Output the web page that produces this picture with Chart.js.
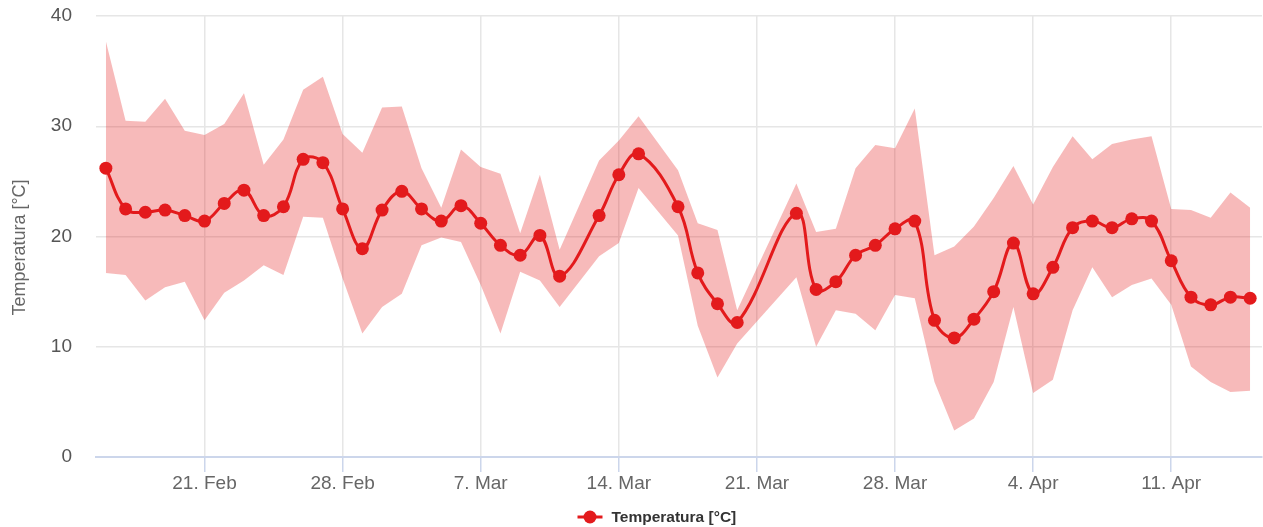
<!DOCTYPE html>
<html>
<head>
<meta charset="utf-8">
<script src="https://cdn.jsdelivr.net/npm/chart.js@4.4.1/dist/chart.umd.min.js"></script>
<style>
  html, body { margin: 0; padding: 0; background: #ffffff; }
  canvas { display: block; }
</style>
</head>
<body>
<canvas id="chart" width="1263" height="527"></canvas>
<script>
// Daily readings (a few days have no data)
const dates = [
  '2023-02-16','2023-02-17','2023-02-18','2023-02-19','2023-02-20','2023-02-21','2023-02-22',
  '2023-02-23','2023-02-24','2023-02-25','2023-02-26','2023-02-27','2023-02-28',
  '2023-03-01','2023-03-02','2023-03-03','2023-03-04','2023-03-05','2023-03-06','2023-03-07',
  '2023-03-08','2023-03-09','2023-03-10','2023-03-11',
  '2023-03-13','2023-03-14','2023-03-15',
  '2023-03-17','2023-03-18','2023-03-19','2023-03-20',
  '2023-03-23','2023-03-24','2023-03-25','2023-03-26','2023-03-27','2023-03-28','2023-03-29',
  '2023-03-30','2023-03-31',
  '2023-04-01','2023-04-02','2023-04-03','2023-04-04','2023-04-05','2023-04-06','2023-04-07',
  '2023-04-08','2023-04-09','2023-04-10','2023-04-11','2023-04-12','2023-04-13','2023-04-14','2023-04-15'
];

// Mean temperature per day
const tempMean = [
  26.2, 22.5, 22.2, 22.4, 21.9, 21.4, 23.0, 24.2, 21.9, 22.7, 27.0, 26.7, 22.5,
  18.9, 22.4, 24.1, 22.5, 21.4, 22.8, 21.2, 19.2, 18.3, 20.1, 16.4,
  21.9, 25.6, 27.5,
  22.7, 16.7, 13.9, 12.2,
  22.1, 15.2, 15.9, 18.3, 19.2, 20.7, 21.4, 12.4, 10.8,
  12.5, 15.0, 19.4, 14.8, 17.2, 20.8, 21.4, 20.8, 21.6, 21.4, 17.8, 14.5, 13.8, 14.5, 14.4
];

// Daily minimum
const tempMin = [
  16.7, 16.5, 14.2, 15.4, 15.9, 12.4, 14.9, 16.0, 17.4, 16.5, 21.8, 21.7, 16.2,
  11.2, 13.6, 14.8, 19.2, 19.9, 19.5, 15.6, 11.2, 16.8, 16.0, 13.6,
  18.2, 19.4, 24.4,
  20.1, 11.9, 7.2, 10.3,
  16.3, 10.0, 13.3, 13.0, 11.5, 14.7, 14.4, 6.8, 2.4,
  3.5, 6.8, 13.6, 5.8, 7.0, 13.3, 17.2, 14.5, 15.6, 16.2, 13.8, 8.2, 6.8, 5.9, 6.0
];

// Daily maximum
const tempMax = [
  37.7, 30.5, 30.4, 32.5, 29.6, 29.2, 30.2, 33.0, 26.5, 28.8, 33.3, 34.5, 29.3,
  27.6, 31.7, 31.8, 26.2, 22.6, 27.9, 26.3, 25.7, 20.3, 25.6, 18.8,
  26.9, 28.7, 30.9,
  26.0, 21.2, 20.6, 13.3,
  24.8, 20.4, 20.7, 26.2, 28.3, 28.0, 31.6, 18.3, 19.1,
  20.9, 23.5, 26.4, 22.9, 26.3, 29.1, 27.0, 28.4, 28.8, 29.1, 22.5, 22.4, 21.7, 24.0, 22.6
];

// Weekly axis ticks
const tickDates  = ['2023-02-21','2023-02-28','2023-03-07','2023-03-14','2023-03-21','2023-03-28','2023-04-04','2023-04-11'];
const tickLabels = ['21. Feb','28. Feb','7. Mar','14. Mar','21. Mar','28. Mar','4. Apr','11. Apr'];

const seriesName = 'Temperatura [°C]';
const axisTitle = 'Temperatura [°C]';

const RED = '#e31a1c';
const BAND = 'rgba(227, 26, 28, 0.3)';
const FONT = '"Liberation Sans", Arial, Helvetica, sans-serif';

// dates -> day numbers on a linear axis
const DAY = 86400000;
const origin = Date.parse(dates[0]);
const dayOf = d => Math.round((Date.parse(d) - origin) / DAY);
const xs = dates.map(dayOf);
const tickDays = tickDates.map(dayOf);
const toPoints = arr => arr.map((v, i) => ({ x: xs[i], y: v }));

// y-axis title and legend row
const overlay = {
  id: 'overlay',
  afterDraw(chart) {
    const ctx = chart.ctx;
    const a = chart.chartArea;
    ctx.save();

    ctx.translate(20, (a.top + a.bottom) / 2 + 11);
    ctx.rotate(-Math.PI / 2);
    ctx.fillStyle = '#666666';
    ctx.font = '18px ' + FONT;
    ctx.textAlign = 'center';
    ctx.textBaseline = 'middle';
    ctx.fillText(axisTitle, 0, 0);
    ctx.setTransform(1, 0, 0, 1, 0, 0);

    const ly = 517;
    const lx = chart.width / 2 - 54;
    ctx.strokeStyle = RED;
    ctx.lineWidth = 3;
    ctx.beginPath();
    ctx.moveTo(lx, ly);
    ctx.lineTo(lx + 25, ly);
    ctx.stroke();
    ctx.fillStyle = RED;
    ctx.beginPath();
    ctx.arc(lx + 12.5, ly, 6.5, 0, Math.PI * 2);
    ctx.fill();
    ctx.fillStyle = '#333333';
    ctx.font = 'bold 15.5px ' + FONT;
    ctx.textAlign = 'left';
    ctx.textBaseline = 'middle';
    ctx.fillText(seriesName, lx + 34, ly + 1);
    ctx.restore();
  }
};

new Chart(document.getElementById('chart'), {
  type: 'line',
  data: {
    datasets: [
      {
        label: seriesName,
        data: toPoints(tempMean),
        borderColor: RED,
        backgroundColor: RED,
        borderWidth: 3,
        pointRadius: 6.5,
        pointBorderWidth: 0,
        pointBackgroundColor: RED,
        tension: 0.4,
        fill: false,
        order: 0
      },
      {
        label: 'max',
        data: toPoints(tempMax),
        borderWidth: 0,
        borderColor: 'rgba(0,0,0,0)',
        pointRadius: 0,
        tension: 0,
        backgroundColor: BAND,
        fill: '+1',
        order: 1
      },
      {
        label: 'min',
        data: toPoints(tempMin),
        borderWidth: 0,
        borderColor: 'rgba(0,0,0,0)',
        pointRadius: 0,
        tension: 0,
        fill: false,
        order: 2
      }
    ]
  },
  options: {
    responsive: false,
    animation: false,
    devicePixelRatio: 1,
    layout: { autoPadding: false, padding: { top: 16, right: 1, bottom: 20, left: 0 } },
    plugins: {
      legend: { display: false },
      tooltip: { enabled: false }
    },
    scales: {
      x: {
        type: 'linear',
        min: -0.5,
        max: xs[xs.length - 1] + 0.6,
        afterBuildTicks: s => { s.ticks = tickDays.map(v => ({ value: v })); },
        afterFit: s => {
          s.height = 50;
          s.paddingLeft = 0; s.paddingRight = 0; s.paddingTop = 0; s.paddingBottom = 0;
        },
        border: { display: true, color: '#ccd6eb', width: 2 },
        grid: {
          color: '#e6e6e6',
          lineWidth: 1.5,
          drawTicks: true,
          tickLength: 15,
          tickColor: '#ccd6eb',
          tickWidth: 1.5
        },
        ticks: {
          autoSkip: false,
          maxRotation: 0,
          padding: 0,
          color: '#666666',
          font: { family: FONT, size: 19 },
          callback: v => tickLabels[tickDays.indexOf(v)]
        }
      },
      y: {
        min: 0,
        max: 40,
        afterFit: s => {
          s.width = 96;
          s.paddingLeft = 0; s.paddingRight = 0; s.paddingTop = 0; s.paddingBottom = 0;
        },
        border: { display: false },
        grid: { color: '#e6e6e6', lineWidth: 1.5, drawTicks: false },
        ticks: {
          stepSize: 10,
          padding: 24,
          color: '#555555',
          font: { family: FONT, size: 19 }
        }
      }
    }
  },
  plugins: [overlay]
});
</script>
</body>
</html>
